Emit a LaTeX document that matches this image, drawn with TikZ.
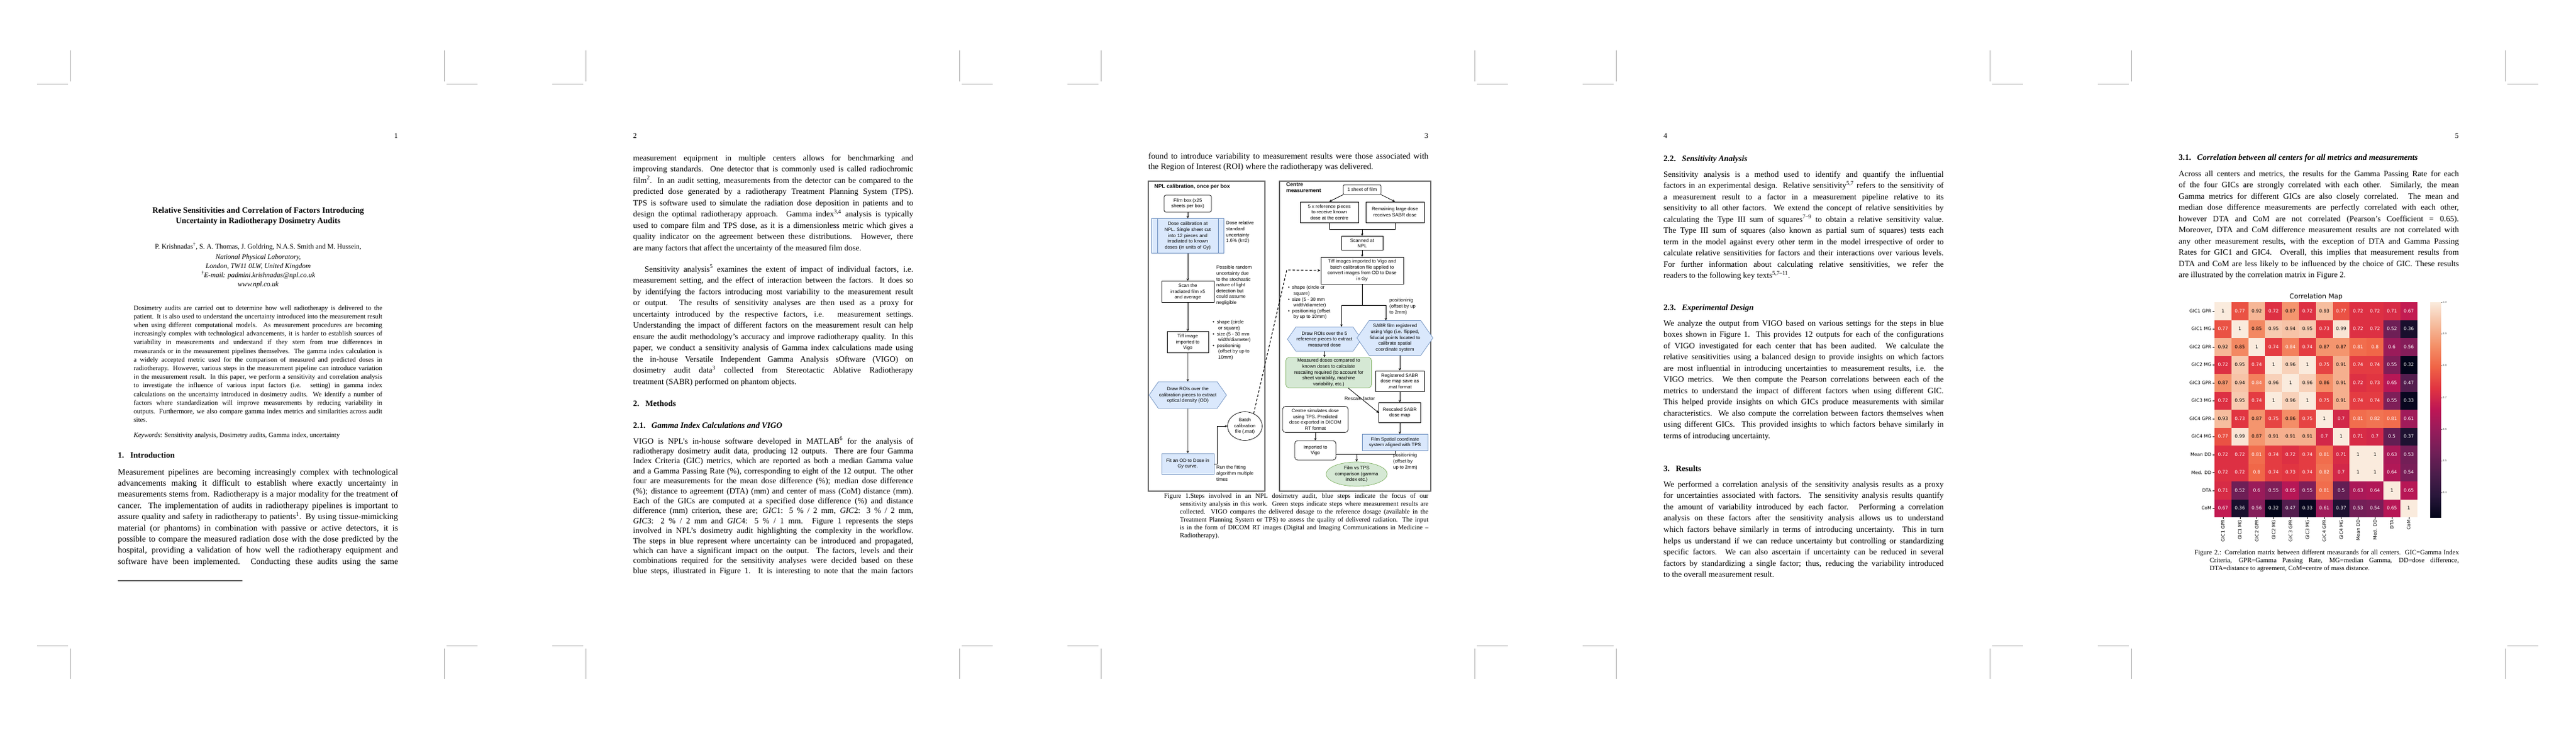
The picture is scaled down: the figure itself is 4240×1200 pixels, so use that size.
\documentclass[tikz,border=0pt]{standalone}
\usepackage{fontspec}
\setmainfont{Liberation Serif}
\newfontfamily\figf{Liberation Sans}
\newfontfamily\hmf{DejaVu Sans}
\usetikzlibrary{shapes.symbols,shapes.geometric,arrows.meta}
\newlength\jlw
\newcommand\jl[1]{\hbox to \jlw{#1}}
\newcommand\jll[1]{\hbox{#1}}
\newcommand\sups[1]{\textsuperscript{#1}}
\definecolor{rk0}{RGB}{3,5,26}
\definecolor{rk1}{RGB}{40,22,58}
\definecolor{rk2}{RGB}{75,29,75}
\definecolor{rk3}{RGB}{112,31,87}
\definecolor{rk4}{RGB}{149,28,91}
\definecolor{rk5}{RGB}{189,22,85}
\definecolor{rk6}{RGB}{225,52,65}
\definecolor{rk7}{RGB}{240,100,70}
\definecolor{rk8}{RGB}{244,145,105}
\definecolor{rk9}{RGB}{246,190,160}
\definecolor{rk10}{RGB}{250,235,221}
\definecolor{bfill}{RGB}{218,232,252}
\definecolor{bline}{RGB}{108,142,191}
\definecolor{gfill}{RGB}{213,232,212}
\definecolor{gline}{RGB}{130,179,102}
\pgfdeclareverticalshading{rocketsh}{100bp}{color(0bp)=(rk0); color(25bp)=(rk0); color(30bp)=(rk1); color(35bp)=(rk2); color(40bp)=(rk3); color(45bp)=(rk4); color(50bp)=(rk5); color(55bp)=(rk6); color(60bp)=(rk7); color(65bp)=(rk8); color(70bp)=(rk9); color(75bp)=(rk10); color(100bp)=(rk10)}
\tikzset{
  blk/.style={anchor=base west, inner sep=0pt},
  crop/.style={draw=gray!70, line width=0.8pt},
  fb/.style={draw, line width=0.7pt, align=center, inner sep=1pt, font=\figf\fontsize{7.8}{9.6}\selectfont},
  ann/.style={anchor=north west, align=left, inner sep=0pt, font=\figf\fontsize{7.8}{9.6}\selectfont},
  bluebox/.style={fb, fill=bfill, draw=bline},
  greenbox/.style={fb, fill=gfill, draw=gline},
  hexa/.style={signal, signal to=west and east, signal pointer angle=110},
  ar/.style={-{Stealth[length=4pt,width=4pt]}, line width=0.8pt},
  ln/.style={line width=0.8pt},
  panel/.style={draw=gray!75!black, line width=1.3pt},
  hmlab/.style={font=\hmf\fontsize{7.5}{8}\selectfont, inner sep=1pt}
}
\begin{document}
\begin{tikzpicture}[x=1pt,y=-1pt]
\useasboundingbox (0,0) rectangle (4240,1200);
\fill[white] (0,0) rectangle (4240,1200);
% crop marks
\foreach \p in {0,848,1696,2544,3392}{
  \draw[crop] (\p+116,83) -- (\p+116,134);
  \draw[crop] (\p+61,138) -- (\p+112,138);
  \draw[crop] (\p+731,83) -- (\p+731,134);
  \draw[crop] (\p+735,138) -- (\p+786,138);
  \draw[crop] (\p+116,1067) -- (\p+116,1117);
  \draw[crop] (\p+61,1062) -- (\p+112,1062);
  \draw[crop] (\p+731,1067) -- (\p+731,1117);
  \draw[crop] (\p+735,1062) -- (\p+786,1062);
}
% page numbers
\node[anchor=base east, inner sep=0, font=\fontsize{12}{14}\selectfont] (pn1) at (655,227) {1};
\node[anchor=base west, inner sep=0, font=\fontsize{12}{14}\selectfont] (pn2) at (848+194,227) {2};
\node[anchor=base east, inner sep=0, font=\fontsize{12}{14}\selectfont] (pn3) at (1696+655,227) {3};
\node[anchor=base west, inner sep=0, font=\fontsize{12}{14}\selectfont] (pn4) at (2544+194,227) {4};
\node[anchor=base east, inner sep=0, font=\fontsize{12}{14}\selectfont] (pn5) at (3392+655,227) {5};

% ================= PAGE 1
\node[anchor=north, inner sep=0, align=center, font=\bfseries\fontsize{13.5}{17}\selectfont] (title) at (425,341)
 {Relative Sensitivities and Correlation of Factors Introducing\\Uncertainty in Radiotherapy Dosimetry Audits};
\node[anchor=base, inner sep=0, font=\fontsize{11.5}{14}\selectfont] (auth) at (425,409)
 {P. Krishnadas\sups{†}, S. A. Thomas, J. Goldring, N.A.S. Smith and M. Hussein,};
\node[anchor=north, inner sep=0, align=center, font=\itshape\fontsize{11.5}{15}\selectfont] (aff) at (425,418)
 {National Physical Laboratory,\\London, TW11 0LW, United Kingdom\\\sups{†}E-mail: padmini.krishnadas@npl.co.uk\\www.npl.co.uk};
\node[blk] (abs) at (220,510) {\vtop{\setlength\jlw{409pt}\fontsize{11}{14.2}\selectfont
\jl{Dosimetry audits are carried out to determine how well radiotherapy is delivered to the}
\jl{patient. It is also used to understand the uncertainty introduced into the measurement result}
\jl{when using different computational models. As measurement procedures are becoming}
\jl{increasingly complex with technological advancements, it is harder to establish sources of}
\jl{variability in measurements and understand if they stem from true differences in}
\jl{measurands or in the measurement pipelines themselves. The gamma index calculation is}
\jl{a widely accepted metric used for the comparison of measured and predicted doses in}
\jl{radiotherapy. However, various steps in the measurement pipeline can introduce variation}
\jl{in the measurement result. In this paper, we perform a sensitivity and correlation analysis}
\jl{to investigate the influence of various input factors (i.e. setting) in gamma index}
\jl{calculations on the uncertainty introduced in dosimetry audits. We identify a number of}
\jl{factors where standardization will improve measurements by reducing variability in}
\jl{outputs. Furthermore, we also compare gamma index metrics and similarities across audit}
\jll{sites.}}};
\node[blk, font=\fontsize{11}{14}\selectfont] (kw) at (220,719) {\textit{Keywords}: Sensitivity analysis, Dosimetry audits, Gamma index, uncertainty};
\node[blk, font=\bfseries\fontsize{13.5}{16}\selectfont] (s1) at (194,753) {1.\hspace{10pt}Introduction};
\node[blk] (p1b) at (194,781) {\vtop{\setlength\jlw{461pt}\fontsize{14}{18.4}\selectfont
\jl{Measurement pipelines are becoming increasingly complex with technological}
\jl{advancements making it difficult to establish where exactly uncertainty in}
\jl{measurements stems from. Radiotherapy is a major modality for the treatment of}
\jl{cancer. The implementation of audits in radiotherapy pipelines is important to}
\jl{assure quality and safety in radiotherapy to patients\sups{1}. By using tissue-mimicking}
\jl{material (or phantoms) in combination with passive or active detectors, it is}
\jl{possible to compare the measured radiation dose with the dose predicted by the}
\jl{hospital, providing a validation of how well the radiotherapy equipment and}
\jl{software have been implemented. Conducting these audits using the same}}};
\draw[line width=0.6pt] (194,955) -- (399,955);

% ================= PAGE 2
\node[blk] (p2a) at (1042,264) {\vtop{\setlength\jlw{461pt}\fontsize{13.4}{18.5}\selectfont
\jl{measurement equipment in multiple centers allows for benchmarking and}
\jl{improving standards. One detector that is commonly used is called radiochromic}
\jl{film\sups{2}. In an audit setting, measurements from the detector can be compared to the}
\jl{predicted dose generated by a radiotherapy Treatment Planning System (TPS).}
\jl{TPS is software used to simulate the radiation dose deposition in patients and to}
\jl{design the optimal radiotherapy approach. Gamma index\sups{3,4} analysis is typically}
\jl{used to compare film and TPS dose, as it is a dimensionless metric which gives a}
\jl{quality indicator on the agreement between these distributions. However, there}
\jll{are many factors that affect the uncertainty of the measured film dose.}}};
\node[blk] (p2b) at (1042,447) {\vtop{\setlength\jlw{461pt}\fontsize{13.4}{18.5}\selectfont
\jl{\hspace*{19pt}Sensitivity analysis\sups{5} examines the extent of impact of individual factors, i.e.}
\jl{measurement setting, and the effect of interaction between the factors. It does so}
\jl{by identifying the factors introducing most variability to the measurement result}
\jl{or output. The results of sensitivity analyses are then used as a proxy for}
\jl{uncertainty introduced by the respective factors, i.e. measurement settings.}
\jl{Understanding the impact of different factors on the measurement result can help}
\jl{ensure the audit methodology's accuracy and improve radiotherapy quality. In this}
\jl{paper, we conduct a sensitivity analysis of Gamma index calculations made using}
\jl{the in-house Versatile Independent Gamma Analysis sOftware (VIGO) on}
\jl{dosimetry audit data\sups{3} collected from Stereotactic Ablative Radiotherapy}
\jll{treatment (SABR) performed on phantom objects.}}};
\node[blk, font=\bfseries\fontsize{13.5}{16}\selectfont] (s2) at (1042,668) {2.\hspace{10pt}Methods};
\node[blk, font=\bfseries\fontsize{13.5}{16}\selectfont] (s21) at (1042,704) {2.1.\hspace{10pt}\textit{Gamma Index Calculations and VIGO}};
\node[blk] (p2c) at (1042,730) {\vtop{\setlength\jlw{461pt}\fontsize{13.4}{16.4}\selectfont
\jl{VIGO is NPL’s in-house software developed in MATLAB\sups{6} for the analysis of}
\jl{radiotherapy dosimetry audit data, producing 12 outputs. There are four Gamma}
\jl{Index Criteria (GIC) metrics, which are reported as both a median Gamma value}
\jl{and a Gamma Passing Rate (\%), corresponding to eight of the 12 output. The other}
\jl{four are measurements for the mean dose difference (\%); median dose difference}
\jl{(\%); distance to agreement (DTA) (mm) and center of mass (CoM) distance (mm).}
\jl{Each of the GICs are computed at a specified dose difference (\%) and distance}
\jl{difference (mm) criterion, these are; \textit{GIC}1: 5 \% / 2 mm, \textit{GIC}2: 3 \% / 2 mm,}
\jl{\textit{GIC}3: 2 \% / 2 mm and \textit{GIC}4: 5 \% / 1 mm. Figure 1 represents the steps}
\jl{involved in NPL’s dosimetry audit highlighting the complexity in the workflow.}
\jl{The steps in blue represent where uncertainty can be introduced and propagated,}
\jl{which can have a significant impact on the output. The factors, levels and their}
\jl{combinations required for the sensitivity analyses were decided based on these}
\jl{blue steps, illustrated in Figure 1. It is interesting to note that the main factors}}};

% ================= PAGE 3
\node[blk] (p3a) at (1890,261) {\vtop{\setlength\jlw{461pt}\fontsize{13.8}{17}\selectfont
\jl{found to introduce variability to measurement results were those associated with}
\jll{the Region of Interest (ROI) where the radiotherapy was delivered.}}};
\draw[panel] (1890,298) rectangle (2082,808);
\draw[panel] (2106,298) rectangle (2355,808);
\node[anchor=north west, inner sep=0, font=\figf\bfseries\fontsize{8.8}{10}\selectfont] (t1) at (1900,303) {NPL calibration, once per box};
\node[anchor=north west, inner sep=0, align=left, font=\figf\bfseries\fontsize{8.8}{10}\selectfont] (t2) at (2117,300) {Centre\\measurement};
% left panel
\node[fb, rounded corners=3pt, minimum width=78pt, minimum height=28pt] (filmbox) at (1955,335) {Film box (x25\\sheets per box)};
\node[bluebox, minimum width=119pt, minimum height=57pt, text width=96pt] (dosecal) at (1955,388) {Dose calibration at\\NPL. Single sheet cut\\into 12 pieces and\\irradiated to known\\doses (in units of Gy)};
\draw[bline, line width=0.7pt] (1905,359.5) -- (1905,416.5) (2005,359.5) -- (2005,416.5);
\node[ann] (ann1) at (2018,364) {Dose relative\\standard\\uncertainty\\1.6\% (k=2)};
\node[fb, minimum width=86pt, minimum height=35pt] (scan) at (1955,480) {Scan the\\irradiated film x5\\and average};
\node[ann] (ann2) at (2002,437) {Possible random\\uncertainty due\\to the stochastic\\nature of light\\detection but\\could assume\\negligible};
\node[fb, minimum width=68pt, minimum height=35pt] (tiff) at (1955,563) {Tiff image\\imported to\\Vigo};
\node[ann] (bul1) at (1996,527) {\textbullet\hspace{4pt}shape (circle\\\hspace*{9pt}or square)\\\textbullet\hspace{4pt}size (5 - 30 mm\\\hspace*{9pt}width/diameter)\\\textbullet\hspace{4pt}positioninig\\\hspace*{9pt}(offset by up to\\\hspace*{9pt}10mm)};
\node[bluebox, hexa, minimum width=119pt, minimum height=44pt] (roi1) at (1955,650) {Draw ROIs over the\\calibration pieces to extract\\optical density (OD)};
\node[bluebox, minimum width=86pt, minimum height=34pt] (fit) at (1955,763) {Fit an OD to Dose in\\Gy curve.};
\node[fb, ellipse, inner sep=0pt, minimum width=57pt, minimum height=47pt] (batch) at (2049,701) {Batch\\calibration\\file (.mat)};
\node[ann] (ann3) at (2002,766) {Run the fitting\\algorithm multiple\\times};
\draw[ar] (filmbox) -- (dosecal);
\draw[ar] (dosecal) -- (scan);
\draw[ar] (scan) -- (tiff);
\draw[ar] (tiff) -- (roi1);
\draw[ar] (roi1) -- (fit);
\draw[ar] (fit.east) -- ++(5,0) |- (batch.west);
% right panel
\node[fb, rounded corners=2pt, minimum width=62pt, minimum height=16pt] (sheet) at (2242,312) {1 sheet of film};
\node[fb, minimum width=96pt, minimum height=34pt] (ref5) at (2188,349) {5 x reference pieces\\to receive known\\dose at the centre};
\node[fb, minimum width=96pt, minimum height=34pt] (remain) at (2296,349) {Remaining large dose\\receives SABR dose};
\node[fb, minimum width=68pt, minimum height=23pt] (scanned) at (2242,400) {Scanned at\\NPL};
\node[fb, minimum width=136pt, minimum height=44pt] (tiff2) at (2242,445) {Tiff images imported to Vigo and\\batch calibration file applied to\\convert images from OD to Dose\\in Gy};
\node[ann] (bul2) at (2120,470) {\textbullet\hspace{4pt}shape (circle or\\\hspace*{9pt}square)\\\textbullet\hspace{4pt}size (5 - 30 mm\\\hspace*{9pt}width/diameter)\\\textbullet\hspace{4pt}positioninig (offset\\\hspace*{9pt}by up to 10mm)};
\node[ann] (pos1) at (2287,491) {positioninig\\(offset by up\\to 2mm)};
\node[bluebox, hexa, minimum width=113pt, minimum height=40pt] (roi2) at (2180,558) {Draw ROIs over the 5\\reference pieces to extract\\measured dose};
\node[bluebox, hexa, minimum width=109pt, minimum height=57pt] (sabr) at (2296,556) {SABR film registered\\using Vigo (i.e. flipped,\\fiducial points located to\\calibrate spatial\\coordinate system};
\node[greenbox, rounded corners=5pt, minimum width=141pt, minimum height=50pt] (meas) at (2187,613) {Measured doses compared to\\known doses to calculate\\rescaling required (to account for\\sheet variability, machine\\variability, etc.)};
\node[fb, minimum width=80pt, minimum height=34pt] (reg) at (2304,627) {Registered SABR\\dose map save as\\.mat format};
\node[fb, minimum width=69pt, minimum height=33pt] (rescaled) at (2304,679) {Rescaled SABR\\dose map};
\node[inner sep=0, font=\figf\fontsize{7.8}{9.6}\selectfont] (rf) at (2238,656) {Rescale factor};
\node[fb, rounded corners=5pt, minimum width=108pt, minimum height=43pt] (centre) at (2165,690) {Centre simulates dose\\using TPS. Predicted\\dose exported in DICOM\\RT format};
\node[bluebox, minimum width=108pt, minimum height=27pt] (filmsp) at (2296,728) {Film Spatial coordinate\\system aligned with TPS};
\node[fb, rounded corners=5pt, minimum width=68pt, minimum height=32pt] (imp) at (2165,741) {Imported to\\Vigo};
\node[ann] (pos2) at (2293,746) {positioninig\\(offset by\\up to 2mm)};
\node[greenbox, ellipse, inner sep=0pt, minimum width=88pt, minimum height=40pt] (fvt) at (2233,780) {Film vs TPS\\comparison (gamma\\index etc.)};
\coordinate (dk) at (2118,444);
\draw[ln, dashed, dash pattern=on 4pt off 3pt, line width=1.1pt, -{Stealth[length=5pt,width=4pt]}] (batch.55) -- (dk) -- (tiff2.west);
\draw[ar] (sheet.south west) -- (ref5.north);
\draw[ar] (sheet.south east) -- (remain.north);
\coordinate (j1) at (2242,377);
\draw[ln] (ref5.south) |- (j1);
\draw[ln] (remain.south) |- (j1);
\draw[ar] (j1) -- (scanned.north);
\draw[ar] (scanned) -- (tiff2);
\coordinate (j2) at (2242,502);
\coordinate (b1) at (2208,502);
\coordinate (b2) at (2281,502);
\draw[ln] (tiff2.south) -- (j2);
\draw[ln] (b1) -- (b2);
\draw[ar] (b1) -- (b1 |- roi2.north);
\draw[ar] (b2) -- (b2 |- sabr.north);
\draw[ar] (roi2.south) -- (roi2.south |- meas.north);
\draw[ar] (reg.north |- sabr.south) -- (reg.north);
\draw[ar] (reg) -- (rescaled);
\draw[ar] (rescaled.south) -- (rescaled.south |- filmsp.north);
\draw[ar] ([xshift=32pt]meas.south) -- (rescaled.west);
\draw[ar] (centre) -- (imp);
\coordinate (j3) at (2233,747);
\draw[ln] (imp.east |- j3) -- (j3);
\draw[ln] (filmsp.south) |- (j3);
\draw[ar] (j3) -- (fvt.north);
% caption
\node[blk] (cap1) at (1916,819) {\vtop{\fontsize{10.8}{13}\selectfont
\setlength\jlw{435pt}\jl{Figure 1.Steps involved in an NPL dosimetry audit, blue steps indicate the focus of our}
\setlength\jlw{409pt}\hbox{\hspace*{26pt}\jl{sensitivity analysis in this work. Green steps indicate steps where measurement results are}}
\hbox{\hspace*{26pt}\jl{collected. VIGO compares the delivered dosage to the reference dosage (available in the}}
\hbox{\hspace*{26pt}\jl{Treatment Planning System or TPS) to assess the quality of delivered radiation. The input}}
\hbox{\hspace*{26pt}\jl{is in the form of DICOM RT images (Digital and Imaging Communications in Medicine –}}
\hbox{\hspace*{26pt}Radiotherapy).}}};

% ================= PAGE 4
\node[blk, font=\bfseries\fontsize{13.5}{16}\selectfont] (s22) at (2738,265) {2.2.\hspace{10pt}\textit{Sensitivity Analysis}};
\node[blk] (p4a) at (2738,291) {\vtop{\setlength\jlw{461pt}\fontsize{13.4}{18.5}\selectfont
\jl{Sensitivity analysis is a method used to identify and quantify the influential}
\jl{factors in an experimental design. Relative sensitivity\sups{5,7} refers to the sensitivity of}
\jl{a measurement result to a factor in a measurement pipeline relative to its}
\jl{sensitivity to all other factors. We extend the concept of relative sensitivities by}
\jl{calculating the Type III sum of squares\sups{7–9} to obtain a relative sensitivity value.}
\jl{The Type III sum of squares (also known as partial sum of squares) tests each}
\jl{term in the model against every other term in the model irrespective of order to}
\jl{calculate relative sensitivities for factors and their interactions over various levels.}
\jl{For further information about calculating relative sensitivities, we refer the}
\jll{readers to the following key texts\sups{5,7–11}.}}};
\node[blk, font=\bfseries\fontsize{13.5}{16}\selectfont] (s23) at (2738,510) {2.3.\hspace{10pt}\textit{Experimental Design}};
\node[blk] (p4b) at (2738,536) {\vtop{\setlength\jlw{461pt}\fontsize{13.4}{18.5}\selectfont
\jl{We analyze the output from VIGO based on various settings for the steps in blue}
\jl{boxes shown in Figure 1. This provides 12 outputs for each of the configurations}
\jl{of VIGO investigated for each center that has been audited. We calculate the}
\jl{relative sensitivities using a balanced design to provide insights on which factors}
\jl{are most influential in introducing uncertainties to measurement results, i.e. the}
\jl{VIGO metrics. We then compute the Pearson correlations between each of the}
\jl{metrics to understand the impact of different factors when using different GIC.}
\jl{This helped provide insights on which GICs produce measurements with similar}
\jl{characteristics. We also compute the correlation between factors themselves when}
\jl{using different GICs. This provided insights to which factors behave similarly in}
\jll{terms of introducing uncertainty.}}};
\node[blk, font=\bfseries\fontsize{13.5}{16}\selectfont] (s3) at (2738,775) {3.\hspace{10pt}Results};
\node[blk] (p4c) at (2738,801) {\vtop{\setlength\jlw{461pt}\fontsize{13.4}{18.6}\selectfont
\jl{We performed a correlation analysis of the sensitivity analysis results as a proxy}
\jl{for uncertainties associated with factors. The sensitivity analysis results quantify}
\jl{the amount of variability introduced by each factor. Performing a correlation}
\jl{analysis on these factors after the sensitivity analysis allows us to understand}
\jl{which factors behave similarly in terms of introducing uncertainty. This in turn}
\jl{helps us understand if we can reduce uncertainty but controlling or standardizing}
\jl{specific factors. We can also ascertain if uncertainty can be reduced in several}
\jl{factors by standardizing a single factor; thus, reducing the variability introduced}
\jll{to the overall measurement result.}}};

% ================= PAGE 5
\node[blk, font=\bfseries\fontsize{13.5}{16}\selectfont] (s31) at (3586,263) {3.1.\hspace{10pt}\textit{Correlation between all centers for all metrics and measurements}};
\node[blk] (p5a) at (3586,290) {\vtop{\setlength\jlw{461pt}\fontsize{13.4}{18.5}\selectfont
\jl{Across all centers and metrics, the results for the Gamma Passing Rate for each}
\jl{of the four GICs are strongly correlated with each other. Similarly, the mean}
\jl{Gamma metrics for different GICs are also closely correlated. The mean and}
\jl{median dose difference measurements are perfectly correlated with each other,}
\jl{however DTA and CoM are not correlated (Pearson’s Coefficient = 0.65).}
\jl{Moreover, DTA and CoM difference measurement results are not correlated with}
\jl{any other measurement results, with the exception of DTA and Gamma Passing}
\jl{Rates for GIC1 and GIC4. Overall, this implies that measurement results from}
\jl{DTA and CoM are less likely to be influenced by the choice of GIC. These results}
\jll{are illustrated by the correlation matrix in Figure 2.}}};
\node[font=\hmf\fontsize{11}{12}\selectfont, inner sep=0] (hmt) at (3812,488) {Correlation Map};
\foreach \rowv [count=\r from 0] in {
 {1,0.77,0.92,0.72,0.87,0.72,0.93,0.77,0.72,0.72,0.71,0.67},
 {0.77,1,0.85,0.95,0.94,0.95,0.73,0.99,0.72,0.72,0.52,0.36},
 {0.92,0.85,1,0.74,0.84,0.74,0.87,0.87,0.81,0.8,0.6,0.56},
 {0.72,0.95,0.74,1,0.96,1,0.75,0.91,0.74,0.74,0.55,0.32},
 {0.87,0.94,0.84,0.96,1,0.96,0.86,0.91,0.72,0.73,0.65,0.47},
 {0.72,0.95,0.74,1,0.96,1,0.75,0.91,0.74,0.74,0.55,0.33},
 {0.93,0.73,0.87,0.75,0.86,0.75,1,0.7,0.81,0.82,0.81,0.61},
 {0.77,0.99,0.87,0.91,0.91,0.91,0.7,1,0.71,0.7,0.5,0.37},
 {0.72,0.72,0.81,0.74,0.72,0.74,0.81,0.71,1,1,0.63,0.53},
 {0.72,0.72,0.8,0.74,0.73,0.74,0.82,0.7,1,1,0.64,0.54},
 {0.71,0.52,0.6,0.55,0.65,0.55,0.81,0.5,0.63,0.64,1,0.65},
 {0.67,0.36,0.56,0.32,0.47,0.33,0.61,0.37,0.53,0.54,0.65,1}}{
  \foreach \v [count=\c from 0] in \rowv {
    \pgfmathsetmacro\hmT{max(0,min(9.999,(\v-0.32)/0.068))}
    \pgfmathtruncatemacro\hmI{\hmT}
    \pgfmathtruncatemacro\hmJ{\hmI+1}
    \pgfmathsetmacro\hmF{(\hmT-\hmI)*100}
    \colorlet{hmc}{rk\hmJ!\hmF!rk\hmI}
    \pgfmathtruncatemacro\hmW{\v<0.845}
    \ifnum\hmW=1 \colorlet{hmtc}{white}\else\colorlet{hmtc}{black}\fi
    \fill[hmc] (3645+\c*27.8,497+\r*29.5) rectangle ++(28.1,29.8);
    \node[hmlab, text=hmtc] at (3645+\c*27.8+13.9,497+\r*29.5+14.75) {\v};
  }
}
\foreach \lab [count=\i from 0] in {GIC1 GPR,GIC1 MG,GIC2 GPR,GIC2 MG,GIC3 GPR,GIC3 MG,GIC4 GPR,GIC4 MG,Mean DD,Med. DD,DTA,CoM}{
  \node[hmlab, anchor=east] at (3641,497+\i*29.5+14.75) {\lab};
  \draw[line width=0.4pt] (3642,497+\i*29.5+14.75) -- (3645,497+\i*29.5+14.75);
  \node[hmlab, anchor=east, rotate=90] at (3645+\i*27.8+13.9,854) {\lab};
  \draw[line width=0.4pt] (3645+\i*27.8+13.9,851) -- (3645+\i*27.8+13.9,854);
}
\shade[shading=rocketsh] (4000,497) rectangle (4018,851);
\foreach \t/\yy in {1.0/497,0.9/549,0.8/601.5,0.7/654,0.6/706,0.5/758,0.4/810}{
  \draw[line width=0.3pt, gray] (4018,\yy) -- (4020,\yy);
  \node[anchor=west, inner sep=0.5pt, font=\hmf\fontsize{4}{4}\selectfont, text=gray!60!black] at (4020,\yy) {\t};
}
\node[blk] (cap2) at (3612,912) {\vtop{\fontsize{11}{13}\selectfont
\setlength\jlw{435pt}\jl{Figure 2.: Correlation matrix between different measurands for all centers. GIC=Gamma Index}
\setlength\jlw{410pt}\hbox{\hspace*{25pt}\jl{Criteria, GPR=Gamma Passing Rate, MG=median Gamma, DD=dose difference,}}
\hbox{\hspace*{25pt}DTA=distance to agreement, CoM=centre of mass distance.}}};
\end{tikzpicture}
\end{document}
